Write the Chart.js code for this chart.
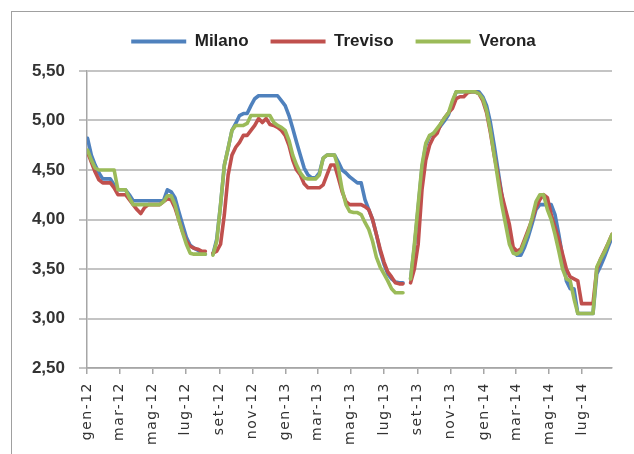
<!DOCTYPE html>
<html lang="it">
<head>
<meta charset="utf-8">
<title>Prezzi settimanali: Milano, Treviso, Verona</title>
<script src="https://cdn.jsdelivr.net/npm/chart.js@4.4.1/dist/chart.umd.min.js"></script>
<style>
  html, body { margin: 0; padding: 0; background: #ffffff; }
  #wrap { position: relative; width: 634px; height: 454px; overflow: hidden; background: #ffffff; }
  #frame { position: absolute; left: 11px; top: 11px; width: 660px; height: 480px; border: 1px solid #a0a0a0; box-sizing: border-box; }
  #chart { position: absolute; left: 0; top: 0; }
</style>
</head>
<body>
<div id="wrap">
  <div id="frame"></div>
  <canvas id="chart" width="634" height="454"></canvas>
</div>
<script>
// Weekly quotations, one value per week starting Monday 2 January 2012.
// null = no quotation (mid-August break).
const firstWeek = Date.UTC(2012, 0, 2);
const axisStart = Date.UTC(2012, 0, 1);

const milano = [
  4.82, 4.65, 4.55, 4.47, 4.41, 4.41, 4.41, 4.35, 4.30, 4.30,
  4.30, 4.25, 4.19, 4.19, 4.19, 4.19, 4.19, 4.19, 4.19, 4.19,
  4.19, 4.30, 4.28, 4.22, 4.08, 3.95, 3.82, 3.74, 3.71, 3.69,
  3.66, 3.65, null, 3.65, 3.80, 4.15, 4.55, 4.72, 4.90, 4.97,
  5.05, 5.07, 5.07, 5.15, 5.22, 5.25, 5.25, 5.25, 5.25, 5.25,
  5.25, 5.20, 5.15, 5.05, 4.92, 4.78, 4.65, 4.52, 4.45, 4.42,
  4.42, 4.47, 4.62, 4.65, 4.65, 4.65, 4.58, 4.50, 4.47, 4.43,
  4.40, 4.37, 4.37, 4.20, 4.10, 4.00, 3.85, 3.68, 3.55, 3.45,
  3.40, 3.37, 3.36, 3.36, null, 3.40, 3.72, 4.12, 4.52, 4.75,
  4.84, 4.87, 4.90, 4.95, 5.00, 5.06, 5.18, 5.29, 5.29, 5.29,
  5.29, 5.29, 5.29, 5.29, 5.24, 5.15, 4.98, 4.75, 4.50, 4.25,
  4.02, 3.80, 3.68, 3.64, 3.64, 3.72, 3.83, 3.96, 4.10, 4.15,
  4.15, 4.15, 4.15, 4.05, 3.85, 3.62, 3.38, 3.30, 3.30, 3.05,
  3.05, 3.05, 3.05, 3.05, 3.45, 3.53, 3.62, 3.72, 3.82
];

const treviso = [
  4.68, 4.58, 4.48, 4.40, 4.37, 4.37, 4.37, 4.32, 4.25, 4.25,
  4.25, 4.20, 4.15, 4.10, 4.06, 4.12, 4.15, 4.15, 4.15, 4.15,
  4.18, 4.21, 4.20, 4.12, 4.00, 3.88, 3.78, 3.73, 3.71, 3.70,
  3.68, 3.68, null, 3.66, 3.68, 3.75, 4.05, 4.45, 4.65, 4.73,
  4.78, 4.85, 4.85, 4.90, 4.95, 5.02, 4.98, 5.02, 4.96, 4.95,
  4.93, 4.90, 4.85, 4.75, 4.60, 4.50, 4.45, 4.36, 4.32, 4.32,
  4.32, 4.32, 4.35, 4.45, 4.55, 4.55, 4.42, 4.28, 4.18, 4.15,
  4.15, 4.15, 4.15, 4.13, 4.10, 4.00, 3.85, 3.70, 3.57, 3.47,
  3.42, 3.36, 3.35, 3.35, null, 3.36, 3.50, 3.75, 4.30, 4.60,
  4.75, 4.83, 4.87, 4.97, 5.03, 5.08, 5.12, 5.22, 5.24, 5.24,
  5.28, 5.29, 5.29, 5.27, 5.20, 5.08, 4.88, 4.65, 4.45, 4.25,
  4.10, 3.95, 3.72, 3.68, 3.70, 3.80, 3.90, 4.00, 4.12, 4.20,
  4.25, 4.22, 4.05, 3.92, 3.80, 3.65, 3.50, 3.42, 3.40, 3.38,
  3.15, 3.15, 3.15, 3.15, 3.50, 3.60, 3.68, 3.76, 3.85
];

const verona = [
  4.70, 4.60, 4.52, 4.50, 4.50, 4.50, 4.50, 4.50, 4.30, 4.30,
  4.30, 4.22, 4.15, 4.15, 4.15, 4.15, 4.15, 4.15, 4.15, 4.15,
  4.18, 4.24, 4.24, 4.15, 4.00, 3.87, 3.75, 3.66, 3.65, 3.65,
  3.65, 3.65, null, 3.64, 3.78, 4.15, 4.55, 4.72, 4.90, 4.95,
  4.95, 4.95, 4.97, 5.05, 5.05, 5.05, 5.05, 5.05, 5.05, 4.98,
  4.95, 4.93, 4.90, 4.80, 4.65, 4.55, 4.47, 4.42, 4.41, 4.41,
  4.41, 4.45, 4.62, 4.65, 4.65, 4.65, 4.52, 4.30, 4.15, 4.08,
  4.07, 4.07, 4.05, 3.97, 3.90, 3.78, 3.62, 3.52, 3.45, 3.38,
  3.30, 3.26, 3.26, 3.26, null, 3.40, 3.75, 4.15, 4.55, 4.77,
  4.85, 4.87, 4.92, 4.97, 5.03, 5.08, 5.20, 5.29, 5.29, 5.29,
  5.29, 5.29, 5.29, 5.27, 5.22, 5.10, 4.90, 4.65, 4.40, 4.15,
  3.95, 3.75, 3.66, 3.65, 3.68, 3.78, 3.88, 4.02, 4.18, 4.25,
  4.25, 4.10, 4.00, 3.85, 3.68, 3.50, 3.40, 3.38, 3.20, 3.05,
  3.05, 3.05, 3.05, 3.05, 3.52, 3.60, 3.67, 3.76, 3.85
];

const seriesNames = ['Milano', 'Treviso', 'Verona'];
const seriesColors = ['#4f81bd', '#c0504d', '#9bbb59'];

// Month ticks every two months, with their labels.
const tickMonths = [
  [2012, 0], [2012, 2], [2012, 4], [2012, 6], [2012, 8], [2012, 10],
  [2013, 0], [2013, 2], [2013, 4], [2013, 6], [2013, 8], [2013, 10],
  [2014, 0], [2014, 2], [2014, 4], [2014, 6]
];
const tickLabels = [
  'gen-12', 'mar-12', 'mag-12', 'lug-12', 'set-12', 'nov-12',
  'gen-13', 'mar-13', 'mag-13', 'lug-13', 'set-13', 'nov-13',
  'gen-14', 'mar-14', 'mag-14', 'lug-14'
];
const yTickValues = [2.5, 3, 3.5, 4, 4.5, 5, 5.5];

const DAY = 86400000;
const dayOf = t => (t - axisStart) / DAY;
const weekDay = i => dayOf(firstWeek) + 7 * i;
const tickDays = tickMonths.map(([y, m]) => dayOf(Date.UTC(y, m, 1)));
const lastDay = weekDay(milano.length - 1);

const toPoints = values => values.map((v, i) => ({ x: weekDay(i), y: v }));

const allSeries = [milano, treviso, verona];
const datasets = allSeries.map((values, k) => ({
  label: seriesNames[k],
  data: toPoints(values),
  borderColor: seriesColors[k],
  backgroundColor: seriesColors[k],
  borderWidth: 3.6,
  pointRadius: 0,
  pointHoverRadius: 0,
  tension: 0,
  spanGaps: false,
  borderJoinStyle: 'round',
  borderCapStyle: 'round',
  order: 3 - k
}));

// Legend: extra room below the row and a small shift to the right.
// Month labels: a little letter spacing.
const LEGEND_SHIFT = 22;
const layoutTweaks = {
  id: 'layoutTweaks',
  beforeUpdate(chart) {
    const lg = chart.legend;
    if (lg && !lg._tweaked) {
      const fit = lg.fit;
      lg.fit = function () {
        fit.call(this);
        this.height += 11;
      };
      const draw = lg.draw;
      lg.draw = function () {
        const l = this.left, r = this.right;
        this.left = l + LEGEND_SHIFT;
        this.right = r + LEGEND_SHIFT;
        draw.apply(this, arguments);
        this.left = l;
        this.right = r;
      };
      lg._tweaked = true;
    }
  },
  beforeDraw(chart) {
    const sx = chart.scales.x;
    if (sx && !sx._spaced) {
      const drawLabels = sx.drawLabels;
      sx.drawLabels = function () {
        const ctx = this.ctx;
        const prev = ctx.letterSpacing;
        ctx.letterSpacing = '1.5px';
        drawLabels.apply(this, arguments);
        ctx.letterSpacing = prev || '0px';
      };
      sx._spaced = true;
    }
  }
};

const labelFont = "'Liberation Sans', Arial, sans-serif";

new Chart(document.getElementById('chart'), {
  type: 'line',
  data: { datasets },
  plugins: [layoutTweaks],
  options: {
    responsive: false,
    animation: false,
    devicePixelRatio: 1,
    layout: { padding: { left: 11, right: 22, top: 11, bottom: 0 } },
    plugins: {
      tooltip: { enabled: false },
      legend: {
        display: true,
        position: 'top',
        reverse: true,
        labels: {
          boxWidth: 55,
          boxHeight: 4,
          padding: 22,
          color: '#222',
          font: { family: labelFont, size: 17, weight: 'bold' },
          generateLabels(chart) {
            const items = Chart.defaults.plugins.legend.labels.generateLabels(chart);
            items.forEach(it => { it.lineWidth = 0; it.fillStyle = it.strokeStyle; });
            return items;
          }
        }
      }
    },
    scales: {
      x: {
        type: 'linear',
        min: 0,
        max: lastDay,
        afterBuildTicks(scale) { scale.ticks = tickDays.map(v => ({ value: v })); },
        afterFit(scale) { scale.height = 86; },
        ticks: {
          autoSkip: false,
          minRotation: 90,
          maxRotation: 90,
          padding: 8,
          color: '#333',
          font: { family: "'DejaVu Sans', sans-serif", size: 14 },
          callback: (value, index) => tickLabels[index]
        },
        grid: { drawOnChartArea: false, drawTicks: true, tickLength: 6, color: '#a6a6a6', lineWidth: 1.5 },
        border: { display: true, color: '#a6a6a6', width: 1.5 }
      },
      y: {
        min: 2.5,
        max: 5.5,
        afterBuildTicks(scale) { scale.ticks = yTickValues.map(v => ({ value: v })); },
        afterFit(scale) { scale.width = 76; },
        ticks: {
          padding: 14,
          color: '#333',
          font: { family: labelFont, size: 17, weight: 'bold' },
          callback: v => v.toFixed(2).replace('.', ',')
        },
        grid: { color: '#c4c4c4', lineWidth: 2, drawTicks: true, tickLength: 8 },
        border: { display: true, color: '#a6a6a6', width: 1.5 }
      }
    }
  }
});
</script>
</body>
</html>
